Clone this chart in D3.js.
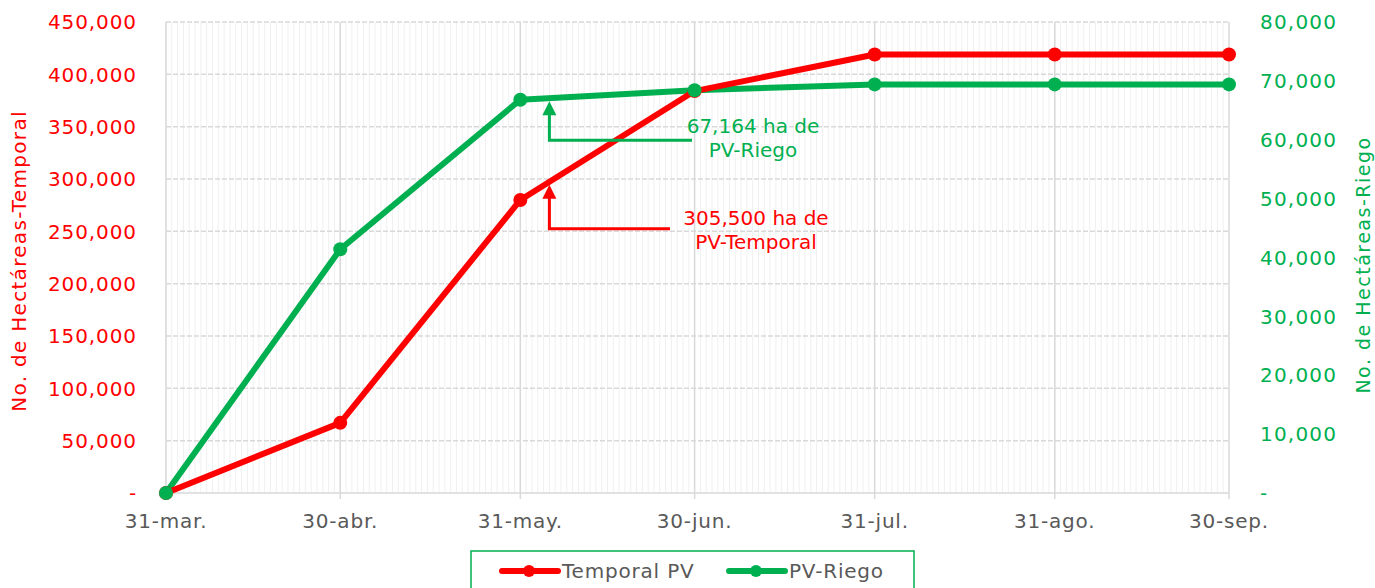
<!DOCTYPE html>
<html>
<head>
<meta charset="utf-8">
<script src="https://cdn.jsdelivr.net/npm/d3@7"></script>
<style>
  body { margin: 0; background: #fff; }
  svg { display: block; font-family: "DejaVu Sans", sans-serif; }
</style>
</head>
<body>
<svg id="chart"></svg>
<script>
const width = 1375;
const height = 588;

// chart data
const dates = ["2023-03-31", "2023-04-30", "2023-05-31", "2023-06-30", "2023-07-31", "2023-08-31", "2023-09-30"];
const dateLabels = ["31-mar.", "30-abr.", "31-may.", "30-jun.", "31-jul.", "31-ago.", "30-sep."];
const temporal = [0, 67000, 280000, 384000, 419000, 419000, 419000];
const riego = [0, 41400, 66800, 68400, 69400, 69400, 69400];
const leftTicks = [0, 50000, 100000, 150000, 200000, 250000, 300000, 350000, 400000, 450000];
const rightTicks = [0, 10000, 20000, 30000, 40000, 50000, 60000, 70000, 80000];

const RED = "#ff0000";
const GREEN = "#00b050";
const GRAY = "#595959";

const parse = d3.timeParse("%Y-%m-%d");
const days = dates.map(parse);

const margin = {top: 22, right: 146, bottom: 95, left: 166};
const svg = d3.select("#chart").attr("width", width).attr("height", height);

const x = d3.scaleTime()
    .domain(d3.extent(days))
    .range([margin.left, width - margin.right]);
const yL = d3.scaleLinear().domain([0, 450000]).range([height - margin.bottom, margin.top]);
const yR = d3.scaleLinear().domain([0, 80000]).range([height - margin.bottom, margin.top]);

const fmt = v => v === 0 ? "-" : d3.format(",")(v);

// grid: daily minor lines, monthly major lines, dashed horizontals
const grid = svg.append("g");
grid.selectAll("line.minor")
  .data(d3.timeDay.range(days[0], days[days.length - 1]))
  .join("line")
    .attr("x1", d => x(d)).attr("x2", d => x(d))
    .attr("y1", yL(0)).attr("y2", yL(450000))
    .attr("stroke", "#f0f0f0").attr("stroke-width", 1);
grid.selectAll("line.h")
  .data(leftTicks.slice(1))
  .join("line")
    .attr("x1", x(days[0])).attr("x2", x(days[days.length - 1]))
    .attr("y1", d => yL(d)).attr("y2", d => yL(d))
    .attr("stroke", "#d9d9d9").attr("stroke-width", 1.5)
    .attr("stroke-dasharray", "5,2");
grid.selectAll("line.major")
  .data(days)
  .join("line")
    .attr("x1", d => x(d)).attr("x2", d => x(d))
    .attr("y1", yL(0) + 6).attr("y2", yL(450000))
    .attr("stroke", "#d9d9d9").attr("stroke-width", 1.5);
grid.append("line")
    .attr("x1", x(days[0])).attr("x2", x(days[days.length - 1]))
    .attr("y1", yL(0)).attr("y2", yL(0))
    .attr("stroke", "#d9d9d9").attr("stroke-width", 1.5);

// axis labels
svg.append("g").selectAll("text")
  .data(leftTicks)
  .join("text")
    .attr("x", 137).attr("y", d => yL(d))
    .attr("dy", "0.36em")
    .attr("text-anchor", "end")
    .attr("fill", RED).attr("font-size", 20).attr("letter-spacing", 0.9)
    .text(fmt);
svg.append("g").selectAll("text")
  .data(rightTicks)
  .join("text")
    .attr("x", 1260).attr("y", d => yR(d))
    .attr("dy", "0.36em")
    .attr("fill", GREEN).attr("font-size", 20).attr("letter-spacing", 1.2)
    .text(d => d === 0 ? " -" : fmt(d));
svg.append("g").selectAll("text")
  .data(days)
  .join("text")
    .attr("x", d => x(d)).attr("y", 528)
    .attr("text-anchor", "middle")
    .attr("fill", GRAY).attr("font-size", 20).attr("letter-spacing", 0.8)
    .text((d, i) => dateLabels[i]);

svg.append("text")
    .attr("transform", "translate(26,261) rotate(-90)")
    .attr("text-anchor", "middle")
    .attr("fill", RED).attr("font-size", 20).attr("letter-spacing", 1.3)
    .text("No. de Hectáreas-Temporal");
svg.append("text")
    .attr("transform", "translate(1370,265) rotate(-90)")
    .attr("text-anchor", "middle")
    .attr("fill", GREEN).attr("font-size", 19).attr("letter-spacing", 1.5)
    .text("No. de Hectáreas-Riego");

// series
const series = [
  {name: "PV-Riego", values: riego, y: yR, color: GREEN},
  {name: "Temporal PV", values: temporal, y: yL, color: RED}
];
series.forEach(s => {
  svg.append("path")
    .datum(s.values)
    .attr("fill", "none")
    .attr("stroke", s.color).attr("stroke-width", 6)
    .attr("stroke-linejoin", "round")
    .attr("d", d3.line().x((d, i) => x(days[i])).y(d => s.y(d)));
});
[series[1], series[0]].forEach(s => {
  svg.append("g").selectAll("circle")
    .data(s.values)
    .join("circle")
      .attr("cx", (d, i) => x(days[i])).attr("cy", d => s.y(d))
      .attr("r", 7).attr("fill", s.color);
});

// annotations
const annotations = [
  {series: series[0], date: "2023-06-05", drop: 39, endX: 692, lines: ["67,164 ha de", "PV-Riego"], tx: 753, ty: -7},
  {series: series[1], date: "2023-06-05", drop: 44, endX: 670, lines: ["305,500 ha de", "PV-Temporal"], tx: 756, ty: -4}
];
annotations.forEach(a => {
  const d = parse(a.date);
  const i = d3.bisectLeft(days, d);
  const t = (d - days[i - 1]) / (days[i] - days[i - 1]);
  const v = a.series.values[i - 1] + t * (a.series.values[i] - a.series.values[i - 1]);
  const ax = x(d);
  const tip = a.series.y(v) + 3;
  const baseY = tip + a.drop;
  const g = svg.append("g");
  g.append("path")
    .attr("d", `M${a.endX},${baseY}H${ax}V${tip + 12}`)
    .attr("fill", "none").attr("stroke", a.series.color).attr("stroke-width", 3);
  g.append("path")
    .attr("d", `M${ax},${tip}L${ax - 7},${tip + 14}L${ax + 7},${tip + 14}Z`)
    .attr("fill", a.series.color);
  g.selectAll("text")
    .data(a.lines)
    .join("text")
      .attr("x", a.tx).attr("y", (l, k) => baseY + a.ty + k * 24)
      .attr("text-anchor", "middle")
      .attr("fill", a.series.color).attr("font-size", 20)
      .text(l => l);
});

// legend
const legend = svg.append("g");
legend.append("rect")
    .attr("x", 471).attr("y", 551).attr("width", 443).attr("height", 60)
    .attr("fill", "#fff").attr("stroke", GREEN).attr("stroke-width", 1.5);
const legendItems = [
  {s: series[1], x: 502},
  {s: series[0], x: 729}
];
legendItems.forEach(li => {
  legend.append("line")
    .attr("x1", li.x).attr("x2", li.x + 56)
    .attr("y1", 571).attr("y2", 571)
    .attr("stroke", li.s.color).attr("stroke-width", 6).attr("stroke-linecap", "round");
  legend.append("circle")
    .attr("cx", li.x + 27).attr("cy", 571).attr("r", 6).attr("fill", li.s.color);
  legend.append("text")
    .attr("x", li.x + 60).attr("y", 578)
    .attr("fill", GRAY).attr("font-size", 20).attr("letter-spacing", 0.8)
    .text(li.s.name);
});
</script>
</body>
</html>
